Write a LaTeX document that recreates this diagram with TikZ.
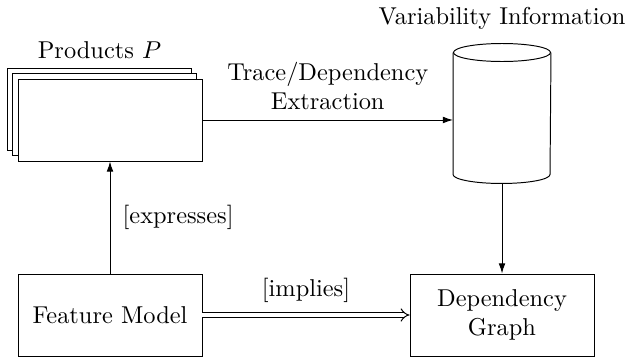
\documentclass[tikz,border=0pt]{standalone}
\usetikzlibrary{arrows,arrows.meta,calc}
\newcommand\pxu{0.41pt}
\begin{document}
\begin{tikzpicture}[x=\pxu, y=-\pxu,
  box/.style={draw, fill=white, minimum width=184*\pxu, minimum height=82*\pxu, align=center, inner sep=0pt},
  flow/.style={-{Latex[length=4.2pt, width=2.8pt]}},
  lbl/.style={inner sep=2pt, align=center}]
  \useasboundingbox (0,0) rectangle (627,357);

  % stack of products
  \node[box] (back)  at (99,109) {};
  \node[box] (mid)   at (104.5,114.5) {};
  \node[box] (front) at (110,120) {};
  \node[lbl] (ptitle) at (99.5,50) {Products $P$};

  % variability information store (cylinder)
  \node[minimum width=97*\pxu, minimum height=121*\pxu, inner sep=0pt] (cyl) at (502,113.5) {};
  \draw (cyl.north west) -- (cyl.south west)
        arc[start angle=180, end angle=0, x radius=48.5, y radius=9]
        -- (cyl.north east);
  \draw (cyl.north) ellipse[x radius=48.5, y radius=9];
  \coordinate (cylbottom) at ($(cyl.south)+(0,9)$);
  \node[lbl] (vtitle) at (502,18) {Variability Information};

  % lower boxes
  \node[box] (fm) at (110,315) {Feature Model};
  \node[box] (dg) at (502,315) {Dependency\\Graph};

  % connectors
  \draw[flow] (front.east) -- node[lbl, above, yshift=2pt] {Trace/Dependency\\Extraction} (front.east -| cyl.west);
  \draw[flow] (fm.north) -- node[lbl, right, xshift=3pt] {[expresses]} (front.south);
  \draw[flow] (cylbottom) -- (cylbottom |- dg.north);
  \draw[double, double distance=1.5pt, -implies] (fm.east) -- node[lbl, above, yshift=3pt] {[implies]} (dg.west);
\end{tikzpicture}
\end{document}
